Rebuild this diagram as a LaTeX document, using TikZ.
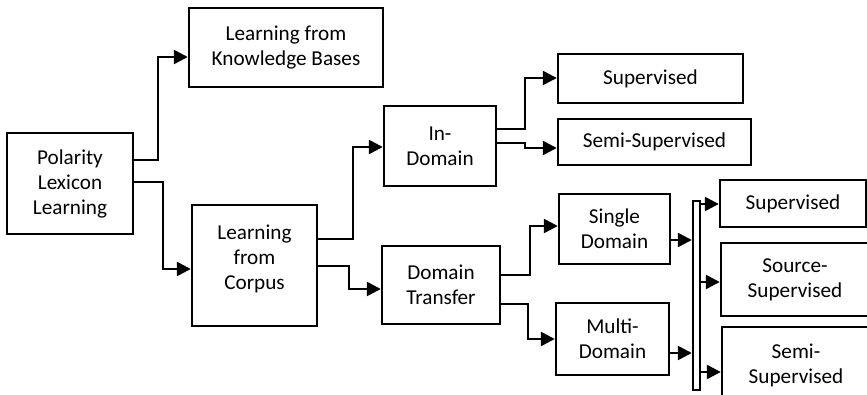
\documentclass[tikz,border=0pt]{standalone}
\usepackage{fontspec}
\setmainfont{Carlito}
\usetikzlibrary{arrows.meta,positioning}

\begin{document}
\begin{tikzpicture}[
    x=0.5pt, y=-0.5pt,
    box/.style={draw, line width=1.2pt, align=center, inner sep=0pt,
      font=\fontsize{10.6}{12.5}\selectfont},
    wh/.style 2 args={minimum width=#1*0.5pt, minimum height=#2*0.5pt},
    link/.style={line width=1.2pt, -{Triangle[length=7pt,width=7pt]}}
  ]
  \path[use as bounding box] (0,0) rectangle (867,395);
  \clip (0,0) rectangle (867,395);

  % taxonomy boxes
  \node[box, wh={126}{101}] (pll) at (70,183.5) {Polarity\\Lexicon\\Learning};
  \node[box, wh={194}{79}] (kb) at (286,47.5) {Learning from\\Knowledge Bases};
  \node[box, wh={125}{121}] (corpus) at (254.5,265.5) {Learning\\from\\Corpus\\[-4pt]\mbox{}};
  \node[box, wh={112}{80}] (indom) at (440,146) {In-\\Domain};
  \node[box, wh={118}{78}] (dt) at (441,285) {Domain\\Transfer};
  \node[box, wh={185}{49}] (supA) at (650.5,78.5) {Supervised};
  \node[box, wh={193}{46}] (semiA) at (654.5,142) {Semi-Supervised};
  \node[box, wh={111}{70}] (single) at (614.5,229) {Single\\Domain};
  \node[box, wh={113}{72}] (multi) at (612.5,339) {Multi-\\Domain};
  \node[box, wh={7}{189}] (bar) at (696.5,295.5) {};
  \node[box, wh={146}{47}] (supB) at (793,203.5) {Supervised};
  \node[box, wh={148}{73}] (srcB) at (795,279.5) {Source-\\Supervised};
  \node[box, wh={148}{76}] (semiB) at (796,365) {Semi-\\Supervised};

  % elbow connectors
  \draw[link] (pll.east |- 0,160) -| (158,57) -- (kb.west |- 0,57);
  \draw[link] (pll.east |- 0,182) -| (163,269) -- (corpus.west |- 0,269);
  \draw[link] (corpus.east |- 0,239) -| (353,147) -- (indom.west |- 0,147);
  \draw[link] (corpus.east |- 0,266) -| (349,289) -- (dt.west |- 0,289);
  \draw[link] (indom.east |- 0,129) -| (525,78) -- (supA.west |- 0,78);
  \draw[link] (indom.east |- 0,143) -| (525,148) -- (semiA.west |- 0,148);
  \draw[link] (dt.east |- 0,275) -| (530,226) -- (single.west |- 0,226);
  \draw[link] (dt.east |- 0,304) -| (528,339) -- (multi.west |- 0,339);

  % into and out of the bar
  \draw[link] (single.east |- 0,240) -- (bar.west |- 0,240);
  \draw[link] (multi.east |- 0,353) -- (bar.west |- 0,353);
  \draw[link] (bar.east |- 0,204) -- (supB.west |- 0,204);
  \draw[link] (bar.east |- 0,282) -- (srcB.west |- 0,282);
  \draw[link] (bar.east |- 0,372) -- (semiB.west |- 0,372);
\end{tikzpicture}
\end{document}
